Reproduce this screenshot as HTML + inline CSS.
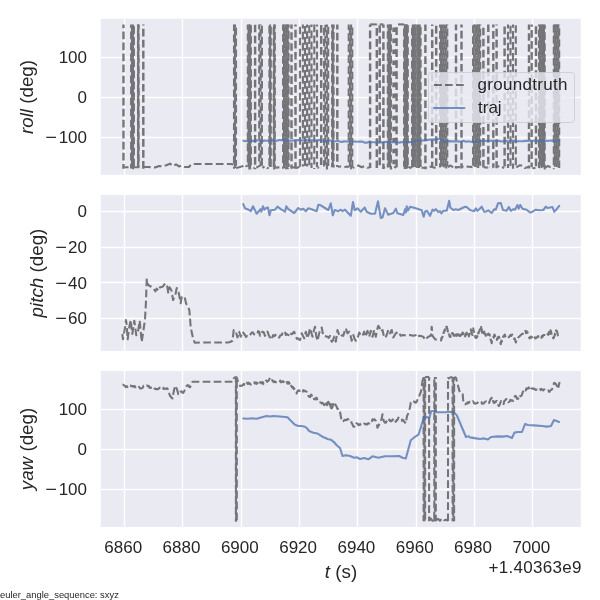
<!DOCTYPE html><html><head><meta charset="utf-8"><title>plot</title><style>
html,body{margin:0;padding:0;background:#fff}
body{width:600px;height:600px;position:relative;overflow:hidden;will-change:transform;font-family:"Liberation Sans",sans-serif;color:#262626}
.t{position:absolute;white-space:nowrap;line-height:1}
.yt{font-size:17px;text-align:right;width:60px;left:27px}
.mn{display:inline-block;transform:scaleX(1.18);transform-origin:100% 50%;margin-left:3px;margin-right:1.3px}
.xt{font-size:17px;text-align:center;width:60px}
.yl{font-size:18.8px;transform-origin:0 0;transform:rotate(-90deg);text-align:center;width:156px}

</style></head><body>
<svg width="600" height="600" viewBox="0 0 600 600" style="position:absolute;left:0;top:0">
<defs>
<clipPath id="c0"><rect x="100.80" y="18.80" width="480.00" height="156.05"/></clipPath>
<clipPath id="c1"><rect x="100.80" y="194.95" width="480.00" height="155.95"/></clipPath>
<clipPath id="c2"><rect x="100.80" y="371.00" width="480.00" height="156.00"/></clipPath>
</defs>
<rect x="100.80" y="18.80" width="480.00" height="156.05" fill="#eaeaf2"/>
<line x1="124.50" x2="124.50" y1="18.80" y2="174.85" stroke="#fff" stroke-width="1.39"/>
<line x1="182.50" x2="182.50" y1="18.80" y2="174.85" stroke="#fff" stroke-width="1.39"/>
<line x1="241.50" x2="241.50" y1="18.80" y2="174.85" stroke="#fff" stroke-width="1.39"/>
<line x1="299.50" x2="299.50" y1="18.80" y2="174.85" stroke="#fff" stroke-width="1.39"/>
<line x1="357.50" x2="357.50" y1="18.80" y2="174.85" stroke="#fff" stroke-width="1.39"/>
<line x1="416.50" x2="416.50" y1="18.80" y2="174.85" stroke="#fff" stroke-width="1.39"/>
<line x1="474.50" x2="474.50" y1="18.80" y2="174.85" stroke="#fff" stroke-width="1.39"/>
<line x1="532.50" x2="532.50" y1="18.80" y2="174.85" stroke="#fff" stroke-width="1.39"/>
<line x1="100.80" x2="580.80" y1="57.50" y2="57.50" stroke="#fff" stroke-width="1.39"/>
<line x1="100.80" x2="580.80" y1="97.50" y2="97.50" stroke="#fff" stroke-width="1.39"/>
<line x1="100.80" x2="580.80" y1="137.50" y2="137.50" stroke="#fff" stroke-width="1.39"/>
<g clip-path="url(#c0)" opacity="0.5" fill="none" stroke="#000" stroke-width="2.1" stroke-dasharray="7.7 3.33" stroke-linejoin="round">
<path d="M123.5 24.4 L123.5 168.7" stroke-dashoffset="3.9" stroke-width="2.45"/>
<path d="M131.1 24.4 L131.1 168.5" stroke-dashoffset="4.0"/>
<path d="M132.0 24.4 L132.0 165.9" stroke-dashoffset="10.3"/>
<path d="M133.0 24.4 L133.0 169.3" stroke-dashoffset="3.9"/>
<path d="M133.9 24.4 L133.9 169.1" stroke-dashoffset="9.1"/>
<path d="M138.0 24.4 L138.0 166.7" stroke-dashoffset="5.9"/>
<path d="M138.3 24.4 L138.3 167.9" stroke-dashoffset="10.8"/>
<path d="M138.6 24.4 L138.6 166.6" stroke-dashoffset="2.8"/>
<path d="M143.3 24.4 L143.3 169.1" stroke-dashoffset="6.7" stroke-width="2.45"/>
<path d="M234.0 24.4 L234.0 168.7" stroke-dashoffset="1.0"/>
<path d="M235.0 24.4 L235.0 168.1" stroke-dashoffset="4.5"/>
<path d="M236.0 24.4 L236.0 165.8" stroke-dashoffset="7.9"/>
<path d="M247.8 24.4 L247.8 166.6" stroke-dashoffset="2.3"/>
<path d="M248.6 24.4 L248.6 169.0" stroke-dashoffset="8.8"/>
<path d="M249.3 24.4 L249.3 169.4" stroke-dashoffset="1.7"/>
<path d="M250.1 24.4 L250.1 168.3" stroke-dashoffset="6.6"/>
<path d="M250.9 24.4 L250.9 169.3" stroke-dashoffset="10.3"/>
<path d="M255.1 24.4 L255.1 169.2" stroke-dashoffset="10.8" stroke-width="2.45"/>
<path d="M259.2 24.4 L259.2 167.1" stroke-dashoffset="2.9"/>
<path d="M260.6 24.4 L260.6 166.3" stroke-dashoffset="6.5"/>
<path d="M261.9 24.4 L261.9 166.9" stroke-dashoffset="9.7"/>
<path d="M269.4 24.4 L269.4 168.3" stroke-dashoffset="9.7"/>
<path d="M270.1 24.4 L270.1 166.9" stroke-dashoffset="2.8"/>
<path d="M270.8 24.4 L270.8 167.6" stroke-dashoffset="8.7"/>
<path d="M273.7 24.4 L273.7 168.4" stroke-dashoffset="8.2"/>
<path d="M274.2 24.4 L274.2 169.4" stroke-dashoffset="0.3"/>
<path d="M274.8 24.4 L274.8 168.6" stroke-dashoffset="3.4"/>
<path d="M283.1 24.4 L283.1 168.7" stroke-dashoffset="1.4"/>
<path d="M284.0 24.4 L284.0 167.9" stroke-dashoffset="5.6"/>
<path d="M284.9 24.4 L284.9 166.0" stroke-dashoffset="8.7"/>
<path d="M285.9 24.4 L285.9 169.3" stroke-dashoffset="1.3"/>
<path d="M286.8 24.4 L286.8 168.6" stroke-dashoffset="5.0"/>
<path d="M287.7 24.4 L287.7 169.3" stroke-dashoffset="0.2"/>
<path d="M288.6 24.4 L288.6 167.1" stroke-dashoffset="4.4"/>
<path d="M291.5 24.4 L291.5 168.7" stroke-dashoffset="3.3" stroke-width="2.45"/>
<path d="M295.5 24.4 L295.5 168.7" stroke-dashoffset="5.6" stroke-width="2.45"/>
<path d="M300.0 24.4 L300.0 168.9" stroke-dashoffset="8.8" stroke-width="2.15"/>
<path d="M302.9 24.4 L302.9 166.4" stroke-dashoffset="3.6" stroke-width="2.15"/>
<path d="M305.0 24.4 L305.0 169.1" stroke-dashoffset="9.5" stroke-width="2.15"/>
<path d="M307.1 24.4 L307.1 166.6" stroke-dashoffset="4.3" stroke-width="2.15"/>
<path d="M309.3 24.4 L309.3 167.3" stroke-dashoffset="10.2" stroke-width="2.15"/>
<path d="M311.5 24.4 L311.5 168.1" stroke-dashoffset="5.0" stroke-width="2.15"/>
<path d="M314.3 24.4 L314.3 169.1" stroke-dashoffset="10.9" stroke-width="2.15"/>
<path d="M317.0 24.4 L317.0 167.3" stroke-dashoffset="5.7" stroke-width="2.15"/>
<path d="M321.2 24.4 L321.2 168.2" stroke-dashoffset="10.4" stroke-width="2.45"/>
<path d="M324.1 24.4 L324.1 166.5" stroke-dashoffset="7.6"/>
<path d="M325.4 24.4 L325.4 166.4" stroke-dashoffset="10.8"/>
<path d="M326.9 24.4 L326.9 169.5" stroke-dashoffset="5.2"/>
<path d="M328.2 24.4 L328.2 166.0" stroke-dashoffset="8.8"/>
<path d="M332.1 24.4 L332.1 167.3" stroke-dashoffset="4.7"/>
<path d="M332.8 24.4 L332.8 168.0" stroke-dashoffset="8.6"/>
<path d="M333.6 24.4 L333.6 167.5" stroke-dashoffset="3.4"/>
<path d="M337.3 24.4 L337.3 166.9" stroke-dashoffset="2.7" stroke-width="2.45"/>
<path d="M348.7 24.4 L348.7 167.6" stroke-dashoffset="2.2"/>
<path d="M349.9 24.4 L349.9 166.3" stroke-dashoffset="8.1"/>
<path d="M351.1 24.4 L351.1 169.3" stroke-dashoffset="2.7"/>
<path d="M352.3 24.4 L352.3 168.7" stroke-dashoffset="7.9"/>
<path d="M370.1 24.4 L370.1 167.9" stroke-dashoffset="5.0" stroke-width="2.45"/>
<path d="M370.1 24.4 L376.8 24.4" stroke-dashoffset="0.0"/>
<path d="M376.8 24.4 L376.8 168.9" stroke-dashoffset="7.4" stroke-width="2.45"/>
<path d="M379.7 24.4 L379.7 167.9" stroke-dashoffset="10.3" stroke-width="2.45"/>
<path d="M379.7 24.4 L383.4 24.4" stroke-dashoffset="0.0"/>
<path d="M383.4 24.4 L383.4 168.9" stroke-dashoffset="4.3" stroke-width="2.45"/>
<path d="M387.8 24.4 L387.8 167.6" stroke-dashoffset="4.3"/>
<path d="M388.6 24.4 L388.6 167.6" stroke-dashoffset="9.9"/>
<path d="M389.4 24.4 L389.4 167.3" stroke-dashoffset="2.9"/>
<path d="M390.1 24.4 L390.1 167.2" stroke-dashoffset="6.4"/>
<path d="M390.9 24.4 L390.9 169.4" stroke-dashoffset="1.8"/>
<path d="M396.6 24.4 L396.6 168.0" stroke-dashoffset="8.2" stroke-width="2.45"/>
<path d="M394.6 27.4 L394.6 167.3" stroke-dashoffset="0.0" stroke-width="4.6" stroke-dasharray="4.6 6.43"/>
<path d="M398.0 24.4 L404.0 24.4" stroke-dashoffset="0.0"/>
<path d="M404.1 24.4 L404.1 166.8" stroke-dashoffset="7.0"/>
<path d="M404.8 24.4 L404.8 169.0" stroke-dashoffset="1.8"/>
<path d="M405.5 24.4 L405.5 168.7" stroke-dashoffset="6.0"/>
<path d="M406.3 24.4 L406.3 168.4" stroke-dashoffset="0.7"/>
<path d="M407.0 24.4 L407.0 168.6" stroke-dashoffset="6.0"/>
<path d="M407.8 24.4 L407.8 168.4" stroke-dashoffset="10.3"/>
<path d="M412.1 24.4 L412.1 168.6" stroke-dashoffset="7.8"/>
<path d="M412.9 24.4 L412.9 166.9" stroke-dashoffset="2.2"/>
<path d="M413.8 24.4 L413.8 168.2" stroke-dashoffset="8.5"/>
<path d="M414.6 24.4 L414.6 165.8" stroke-dashoffset="2.5"/>
<path d="M415.4 24.4 L415.4 166.7" stroke-dashoffset="7.4"/>
<path d="M416.3 24.4 L416.3 167.5" stroke-dashoffset="1.7"/>
<path d="M417.2 24.4 L417.2 168.2" stroke-dashoffset="7.6"/>
<path d="M418.0 24.4 L418.0 167.1" stroke-dashoffset="2.4"/>
<path d="M418.9 24.4 L418.9 168.5" stroke-dashoffset="7.6"/>
<path d="M419.7 24.4 L419.7 167.1" stroke-dashoffset="2.5"/>
<path d="M420.6 24.4 L420.6 169.0" stroke-dashoffset="8.4"/>
<path d="M425.4 24.4 L425.4 169.2" stroke-dashoffset="1.2" stroke-width="2.45"/>
<path d="M432.2 24.4 L432.2 168.1" stroke-dashoffset="6.1" stroke-width="2.45"/>
<path d="M436.2 24.4 L436.2 167.2" stroke-dashoffset="9.6" stroke-width="2.45"/>
<path d="M440.1 24.4 L440.1 167.6" stroke-dashoffset="4.5"/>
<path d="M441.1 24.4 L441.1 168.5" stroke-dashoffset="9.9"/>
<path d="M442.1 24.4 L442.1 166.4" stroke-dashoffset="4.4"/>
<path d="M443.2 24.4 L443.2 167.9" stroke-dashoffset="10.2"/>
<path d="M444.2 24.4 L444.2 167.4" stroke-dashoffset="4.5"/>
<path d="M445.3 24.4 L445.3 168.7" stroke-dashoffset="9.6"/>
<path d="M446.3 24.4 L446.3 168.5" stroke-dashoffset="3.8"/>
<path d="M447.3 24.4 L447.3 166.4" stroke-dashoffset="6.9"/>
<path d="M456.0 24.4 L456.0 168.4" stroke-dashoffset="1.9" stroke-width="2.45"/>
<path d="M461.5 24.4 L461.5 168.5" stroke-dashoffset="4.6" stroke-width="2.45"/>
<path d="M473.1 24.4 L473.1 167.5" stroke-dashoffset="10.1"/>
<path d="M474.1 24.4 L474.1 166.0" stroke-dashoffset="2.9"/>
<path d="M475.1 24.4 L475.1 167.0" stroke-dashoffset="6.3"/>
<path d="M476.1 24.4 L476.1 166.5" stroke-dashoffset="10.0"/>
<path d="M477.2 24.4 L477.2 167.5" stroke-dashoffset="2.1"/>
<path d="M478.2 24.4 L478.2 168.1" stroke-dashoffset="6.4"/>
<path d="M479.2 24.4 L479.2 166.7" stroke-dashoffset="0.4"/>
<path d="M480.2 24.4 L480.2 165.8" stroke-dashoffset="6.6"/>
<path d="M483.4 24.4 L483.4 167.5" stroke-dashoffset="7.8" stroke-width="2.45"/>
<path d="M488.3 24.4 L488.3 167.1" stroke-dashoffset="0.0" stroke-width="2.45"/>
<path d="M493.3 24.4 L493.3 167.7" stroke-dashoffset="4.5" stroke-width="2.45"/>
<path d="M496.6 24.4 L496.6 168.3" stroke-dashoffset="6.6" stroke-width="2.45"/>
<path d="M504.6 24.4 L504.6 168.2" stroke-dashoffset="8.9" stroke-width="2.45"/>
<path d="M508.0 24.4 L508.0 168.0" stroke-dashoffset="3.7" stroke-width="2.15"/>
<path d="M510.5 24.4 L510.5 169.2" stroke-dashoffset="9.6" stroke-width="2.15"/>
<path d="M513.0 24.4 L513.0 168.8" stroke-dashoffset="4.4" stroke-width="2.15"/>
<path d="M515.8 24.4 L515.8 167.6" stroke-dashoffset="10.3" stroke-width="2.15"/>
<path d="M529.0 24.4 L529.0 168.4" stroke-dashoffset="2.3" stroke-width="2.45"/>
<path d="M531.7 24.4 L531.7 167.2" stroke-dashoffset="5.4" stroke-width="2.45"/>
<path d="M536.0 24.4 L536.0 168.2" stroke-dashoffset="9.2" stroke-width="2.45"/>
<path d="M539.0 24.4 L539.0 168.1" stroke-dashoffset="5.9"/>
<path d="M539.9 24.4 L539.9 169.1" stroke-dashoffset="10.1"/>
<path d="M540.6 24.4 L540.6 166.2" stroke-dashoffset="2.1"/>
<path d="M541.5 24.4 L541.5 168.1" stroke-dashoffset="7.1"/>
<path d="M542.2 24.4 L542.2 168.1" stroke-dashoffset="10.6"/>
<path d="M543.1 24.4 L543.1 167.2" stroke-dashoffset="5.7"/>
<path d="M543.9 24.4 L543.9 166.6" stroke-dashoffset="10.2"/>
<path d="M544.7 24.4 L544.7 169.4" stroke-dashoffset="3.2"/>
<path d="M553.8 24.4 L553.8 169.2" stroke-dashoffset="10.6"/>
<path d="M554.7 24.4 L554.7 166.8" stroke-dashoffset="4.6"/>
<path d="M555.6 24.4 L555.6 167.6" stroke-dashoffset="0.0"/>
<path d="M556.5 24.4 L556.5 167.0" stroke-dashoffset="4.5"/>
<path d="M557.4 24.4 L557.4 167.6" stroke-dashoffset="10.9"/>
<path d="M558.3 24.4 L558.3 167.6" stroke-dashoffset="3.9"/>
<path d="M559.2 24.4 L559.2 168.1" stroke-dashoffset="7.3"/>
<path d="M122.8 167.3 L143.0 167.3" stroke-dashoffset="2.0"/>
<path d="M143.0 167.0 L148.0 167.0 L155.0 167.4 L159.0 166.0 L163.0 166.4 L167.0 165.0 L170.0 163.6 L173.0 166.0 L176.0 164.4 L179.0 166.4 L182.0 165.6 L185.0 167.0 L189.0 167.0 L191.0 164.4 L194.0 164.0 L230.0 164.0 L233.6 164.4" stroke-dashoffset="0.0"/>
<path d="M236.0 168.0 L240.0 167.0 L243.0 166.0 L245.0 164.4 L247.0 166.8" stroke-dashoffset="0.0"/>
<path d="M251.5 167.5 L254.6 168.0" stroke-dashoffset="9.1"/>
<path d="M255.6 166.8 L258.6 167.2" stroke-dashoffset="10.3"/>
<path d="M262.5 168.0 L264.9 166.0 L267.1 168.1 L268.8 167.7" stroke-dashoffset="5.2"/>
<path d="M275.4 167.8 L278.3 167.4 L280.5 167.4 L282.5 167.6" stroke-dashoffset="3.7"/>
<path d="M292.0 167.2 L295.0 167.5" stroke-dashoffset="4.0"/>
<path d="M296.0 167.9 L299.5 166.9" stroke-dashoffset="2.8"/>
<path d="M317.5 167.5 L320.7 168.1" stroke-dashoffset="6.0"/>
<path d="M337.8 166.8 L341.0 166.5 L343.8 167.3 L346.8 166.6 L348.1 167.4" stroke-dashoffset="4.3"/>
<path d="M352.9 168.1 L355.2 166.1 L358.4 165.5 L361.7 167.2 L364.3 166.1 L367.5 167.8 L369.6 167.5" stroke-dashoffset="6.1"/>
<path d="M383.9 167.5 L387.2 167.0" stroke-dashoffset="6.5"/>
<path d="M391.5 168.0 L393.6 165.9 L396.1 168.0" stroke-dashoffset="7.3"/>
<path d="M408.3 166.8 L411.5 168.3" stroke-dashoffset="11.0"/>
<path d="M421.1 167.9 L423.2 167.7 L424.9 167.8" stroke-dashoffset="10.5"/>
<path d="M425.9 167.9 L428.1 166.1 L431.7 167.0" stroke-dashoffset="6.7"/>
<path d="M432.7 167.4 L435.7 167.7" stroke-dashoffset="0.5"/>
<path d="M447.9 167.0 L450.5 165.5 L452.6 166.9 L455.5 168.1" stroke-dashoffset="1.5"/>
<path d="M456.5 167.4 L459.0 167.0 L461.0 168.2" stroke-dashoffset="4.1"/>
<path d="M462.0 166.9 L465.0 165.7 L468.0 166.7 L471.4 166.9 L472.5 167.2" stroke-dashoffset="6.1"/>
<path d="M483.9 167.2 L487.8 167.6" stroke-dashoffset="1.5"/>
<path d="M488.8 167.2 L491.4 167.4 L492.8 167.9" stroke-dashoffset="7.2"/>
<path d="M497.1 166.9 L500.1 165.6 L502.3 167.0 L504.1 168.1" stroke-dashoffset="5.3"/>
<path d="M516.3 167.3 L519.5 165.4 L522.6 165.5 L524.8 168.0 L528.5 167.1" stroke-dashoffset="1.3"/>
<path d="M532.2 168.3 L535.5 168.0" stroke-dashoffset="1.5"/>
<path d="M545.2 167.7 L547.7 166.0 L550.2 167.0 L553.2 167.4" stroke-dashoffset="1.5"/>
</g>
<path clip-path="url(#c0)" d="M243.3 140.7 L245.0 141.1 L247.8 141.0 L250.2 141.0 L252.7 140.8 L255.3 140.9 L257.6 140.2 L259.2 140.3 L260.8 141.0 L263.2 140.9 L264.7 140.6 L268.0 140.7 L270.4 140.5 L272.1 140.2 L273.9 140.4 L276.2 140.9 L278.0 140.2 L280.0 140.1 L282.1 140.2 L284.6 140.0 L287.9 140.3 L291.3 140.7 L294.1 140.4 L297.5 140.0 L300.4 140.2 L303.2 140.6 L305.0 140.0 L306.6 140.1 L308.2 140.3 L311.7 140.2 L313.8 140.3 L315.9 140.6 L318.8 139.9 L320.8 140.5 L324.2 140.7 L326.5 141.2 L328.1 140.2 L331.1 140.8 L332.7 141.0 L336.2 141.2 L338.4 140.8 L340.0 141.8 L342.5 141.9 L344.1 141.3 L345.7 141.5 L347.3 141.4 L349.7 141.5 L351.3 141.3 L354.7 141.5 L357.2 141.8 L359.8 141.5 L361.9 141.6 L364.5 142.6 L367.2 142.6 L369.1 141.7 L371.7 142.3 L374.3 142.2 L377.1 142.6 L380.4 142.1 L382.8 142.7 L384.8 142.0 L386.9 141.9 L389.9 142.8 L392.1 142.0 L393.7 142.2 L395.4 142.4 L398.0 142.2 L399.7 142.7 L401.3 142.1 L403.3 142.1 L405.0 142.0 L407.2 142.1 L409.8 142.1 L412.6 141.7 L415.2 141.1 L418.4 141.0 L421.8 140.8 L424.7 140.1 L427.8 139.9 L429.6 139.5 L431.4 139.6 L434.2 139.4 L435.9 139.8 L438.5 138.9 L440.1 138.9 L442.3 140.5 L445.7 141.5 L447.7 141.4 L449.9 141.1 L451.4 141.4 L454.6 141.4 L456.3 141.2 L458.1 141.4 L460.5 141.7 L463.6 140.8 L465.7 141.7 L468.1 141.2 L470.5 141.8 L473.9 141.9 L477.3 141.9 L479.0 142.1 L481.4 141.0 L484.8 140.8 L487.5 141.1 L490.8 140.7 L492.7 140.5 L494.6 140.8 L496.8 141.1 L498.8 140.7 L500.8 141.4 L504.0 141.3 L506.7 140.9 L508.5 141.4 L511.0 140.5 L512.8 140.6 L515.7 141.4 L517.6 141.3 L519.8 141.2 L523.0 141.1 L526.1 140.9 L527.6 141.0 L530.3 140.7 L532.6 140.8 L534.1 140.8 L536.4 140.9 L539.3 140.8 L542.8 141.1 L546.1 140.9 L549.0 140.7 L552.1 140.5 L554.7 140.9 L557.3 140.5 L558.9 140.2 L559.2 140.7" fill="none" stroke="#4c72b0" stroke-opacity="0.75" stroke-width="2.1" stroke-linejoin="round" stroke-linecap="round"/>
<rect x="100.80" y="194.95" width="480.00" height="155.95" fill="#eaeaf2"/>
<line x1="124.50" x2="124.50" y1="194.95" y2="350.90" stroke="#fff" stroke-width="1.39"/>
<line x1="182.50" x2="182.50" y1="194.95" y2="350.90" stroke="#fff" stroke-width="1.39"/>
<line x1="241.50" x2="241.50" y1="194.95" y2="350.90" stroke="#fff" stroke-width="1.39"/>
<line x1="299.50" x2="299.50" y1="194.95" y2="350.90" stroke="#fff" stroke-width="1.39"/>
<line x1="357.50" x2="357.50" y1="194.95" y2="350.90" stroke="#fff" stroke-width="1.39"/>
<line x1="416.50" x2="416.50" y1="194.95" y2="350.90" stroke="#fff" stroke-width="1.39"/>
<line x1="474.50" x2="474.50" y1="194.95" y2="350.90" stroke="#fff" stroke-width="1.39"/>
<line x1="532.50" x2="532.50" y1="194.95" y2="350.90" stroke="#fff" stroke-width="1.39"/>
<line x1="100.80" x2="580.80" y1="211.50" y2="211.50" stroke="#fff" stroke-width="1.39"/>
<line x1="100.80" x2="580.80" y1="247.50" y2="247.50" stroke="#fff" stroke-width="1.39"/>
<line x1="100.80" x2="580.80" y1="282.50" y2="282.50" stroke="#fff" stroke-width="1.39"/>
<line x1="100.80" x2="580.80" y1="318.50" y2="318.50" stroke="#fff" stroke-width="1.39"/>
<g clip-path="url(#c1)" opacity="0.5" fill="none" stroke="#000" stroke-width="2.1" stroke-dasharray="7.7 3.33" stroke-linejoin="round">
<path d="M122.3 334.0 L123.0 339.3 L125.0 327.3 L125.9 320.0 L126.5 323.3 L127.7 339.3 L129.0 328.7 L130.7 320.0 L132.3 334.0 L134.3 320.7 L136.3 335.3 L138.3 330.0 L139.7 320.7 L141.7 342.0 L143.7 328.7 L145.0 319.3 L145.9 303.3 L146.5 286.0 L146.8 278.3 L147.1 283.3 L149.3 285.7 L151.3 286.7 L153.3 288.0 L155.3 291.3 L156.7 288.7 L158.7 290.7 L160.0 287.3 L162.7 286.7 L165.3 283.3 L167.3 286.7 L168.3 293.3 L169.6 287.3 L171.3 290.0 L173.1 300.0 L174.4 296.7 L175.7 293.3 L176.7 288.0 L178.7 292.7 L180.7 303.3 L181.6 297.3 L183.3 298.7 L184.7 297.3 L186.0 303.3 L188.0 306.7 L189.3 310.0 L190.0 318.0 L190.7 327.3 L192.7 336.7 L194.7 342.7 L200.0 342.5 L228.0 342.5 L230.0 342.0 L232.5 340.8 L233.7 330.0 L234.8 330.7 L235.8 331.7 L237.5 337.5 L239.2 331.7 L240.8 336.7 L242.5 331.7 L243.8 333.5 L245.0 335.0 L246.1 336.9 L247.2 336.0 L248.3 336.7 L249.4 335.3 L250.6 334.2 L251.7 332.5 L252.8 332.3 L253.9 334.2 L255.0 335.0 L256.0 334.6 L257.1 334.3 L258.1 331.2 L259.2 331.7 L260.0 335.8 L261.2 333.1 L262.5 331.7 L263.8 332.4 L265.0 335.8 L266.2 334.7 L267.5 331.7 L268.8 335.2 L270.0 337.5 L271.1 335.2 L272.2 337.4 L273.3 335.0 L274.4 336.2 L275.6 334.9 L276.7 334.2 L277.9 336.2 L279.2 337.5 L280.4 335.2 L281.7 335.0 L282.8 332.3 L283.9 332.9 L285.0 331.7 L285.8 335.0 L286.9 334.0 L287.9 334.8 L289.0 335.4 L290.0 336.7 L291.0 333.9 L292.1 334.1 L293.1 332.7 L294.2 331.7 L295.8 336.7 L296.9 338.6 L297.9 338.4 L299.0 339.6 L300.0 340.0 L301.7 333.3 L302.9 335.8 L304.2 338.3 L305.8 331.7 L307.5 338.3 L308.8 334.0 L310.0 328.3 L311.2 332.3 L312.5 336.7 L313.8 330.8 L315.0 326.7 L316.2 335.7 L317.5 340.8 L319.2 333.3 L320.0 330.8 L321.7 327.5 L323.3 335.8 L327.5 336.7 L328.8 337.9 L330.0 335.8 L331.7 341.7 L332.9 340.3 L334.2 336.7 L335.8 341.7 L337.5 330.0 L338.8 334.0 L340.0 336.7 L341.1 335.8 L342.2 335.2 L343.3 335.8 L344.6 331.4 L345.8 328.3 L347.5 333.3 L349.2 331.7 L350.4 334.8 L351.7 340.8 L353.3 335.0 L354.6 338.8 L355.8 340.8 L356.9 337.7 L358.1 336.5 L359.2 332.5 L360.8 335.8 L361.9 334.1 L363.1 334.6 L364.2 331.7 L365.0 336.7 L366.2 334.9 L367.5 330.8 L369.2 336.7 L370.8 330.8 L372.5 336.7 L374.2 330.0 L375.8 336.7 L377.1 329.6 L378.3 325.8 L379.6 327.8 L380.8 331.7 L382.5 330.0 L384.2 337.5 L385.4 337.6 L386.7 335.0 L388.3 330.0 L390.0 333.3 L391.7 330.0 L393.3 337.5 L394.6 335.3 L395.8 333.3 L398.3 331.7 L400.8 335.8 L403.3 335.0 L406.7 335.8 L410.0 335.0 L413.3 335.8 L416.7 335.0 L416.7 336.7 L420.0 335.8 L423.3 336.7 L425.0 340.0 L428.3 336.7 L430.8 335.8 L431.7 326.7 L432.5 335.8 L435.0 339.2 L437.5 340.0 L440.8 340.0 L441.1 340.5 L441.3 338.8 L441.5 337.7 L441.8 338.4 L442.0 338.2 L442.3 336.7 L442.5 336.7 L442.7 335.1 L443.0 334.9 L443.2 335.5 L443.5 334.3 L443.7 332.3 L443.9 331.9 L444.2 331.7 L444.4 330.4 L444.6 329.9 L444.8 330.9 L445.1 329.2 L445.3 329.5 L445.5 328.8 L445.8 327.9 L446.0 328.5 L446.2 326.8 L446.4 327.4 L446.7 326.7 L446.9 326.9 L447.1 328.4 L447.4 328.9 L447.6 330.0 L447.9 332.4 L448.1 333.0 L448.3 333.3 L448.6 333.4 L448.8 335.1 L449.0 334.2 L449.3 335.0 L449.5 336.4 L449.8 336.5 L450.0 336.7 L450.2 335.6 L450.5 337.0 L450.7 335.2 L450.9 335.0 L451.1 335.7 L451.4 334.5 L451.6 334.1 L451.8 333.4 L452.0 333.1 L452.3 333.8 L452.5 333.3 L452.7 333.0 L453.0 334.0 L453.2 333.8 L453.4 334.1 L453.6 335.4 L453.9 334.7 L454.1 335.1 L454.3 335.9 L454.5 334.7 L454.8 334.9 L455.0 335.8 L455.2 336.5 L455.5 336.2 L455.7 334.9 L455.9 334.6 L456.1 335.6 L456.4 335.8 L456.6 334.2 L456.8 335.5 L457.0 335.2 L457.3 334.5 L457.5 334.2 L457.7 334.2 L458.0 333.7 L458.2 333.7 L458.4 335.7 L458.6 334.4 L458.9 335.5 L459.1 334.7 L459.3 336.0 L459.5 335.7 L459.8 335.3 L460.0 335.8 L460.2 335.0 L460.5 335.8 L460.7 334.3 L460.9 334.4 L461.1 334.8 L461.4 335.2 L461.6 334.5 L461.8 333.6 L462.0 334.6 L462.3 333.0 L462.5 333.3 L462.7 332.6 L463.0 333.3 L463.2 333.9 L463.4 333.4 L463.6 333.8 L463.9 334.4 L464.1 335.1 L464.3 334.4 L464.5 335.1 L464.8 336.4 L465.0 335.8 L465.2 336.5 L465.5 335.5 L465.7 335.3 L465.9 334.8 L466.1 333.6 L466.4 333.1 L466.6 332.7 L466.8 334.2 L467.0 333.5 L467.3 333.7 L467.5 332.5 L467.7 332.0 L468.0 333.7 L468.2 333.9 L468.5 334.9 L468.7 334.5 L468.9 336.4 L469.2 335.8 L469.4 334.0 L469.6 334.0 L469.9 333.5 L470.1 332.8 L470.4 331.5 L470.6 330.5 L470.8 329.2 L471.1 330.6 L471.3 331.7 L471.5 331.4 L471.8 332.9 L472.0 334.1 L472.3 334.9 L472.5 335.0 L472.8 332.6 L473.1 331.1 L473.3 328.3 L473.6 330.3 L473.8 330.9 L474.0 332.2 L474.3 332.9 L474.5 334.5 L474.8 335.7 L475.0 336.7 L475.2 335.9 L475.5 337.2 L475.7 338.0 L476.0 337.9 L476.2 337.7 L476.4 337.2 L476.7 337.5 L476.9 337.4 L477.1 336.6 L477.3 335.8 L477.6 336.1 L477.8 334.0 L478.0 334.8 L478.3 332.8 L478.5 333.5 L478.7 332.7 L478.9 331.7 L479.2 331.7 L479.4 331.2 L479.6 330.0 L479.9 329.4 L480.1 329.2 L480.4 327.0 L480.6 325.7 L480.8 325.8 L481.1 326.6 L481.3 328.6 L481.5 328.8 L481.8 329.9 L482.0 332.6 L482.3 333.3 L482.5 334.2 L482.7 333.7 L483.0 334.2 L483.2 332.7 L483.5 333.1 L483.7 331.8 L483.9 331.9 L484.2 331.7 L484.4 332.9 L484.6 333.7 L484.9 334.2 L485.1 333.8 L485.4 334.8 L485.6 334.9 L485.8 335.8 L486.1 335.0 L486.3 335.5 L486.5 336.1 L486.7 335.9 L487.0 335.5 L487.2 335.8 L487.4 334.3 L487.7 334.0 L487.9 334.4 L488.1 333.9 L488.3 334.2 L488.6 333.7 L488.8 334.2 L489.0 334.8 L489.3 334.6 L489.5 334.4 L489.8 335.6 L490.0 335.0 L490.6 339.5 L491.1 340.4 L491.7 343.3 L492.2 339.6 L492.8 337.2 L493.3 336.7 L493.9 337.7 L494.4 334.5 L495.0 335.8 L495.6 338.0 L496.1 338.9 L496.7 340.0 L497.2 338.2 L497.8 338.8 L498.3 336.7 L499.0 336.8 L499.6 339.1 L500.2 342.1 L500.8 344.2 L501.4 340.5 L501.9 341.5 L502.5 338.3 L503.1 336.8 L503.6 335.9 L504.2 336.7 L504.8 334.6 L505.4 336.3 L506.0 335.2 L506.7 335.0 L507.2 335.6 L507.8 335.8 L508.3 336.5 L508.9 337.2 L509.4 336.4 L510.0 335.8 L510.6 334.9 L511.1 336.0 L511.7 335.1 L512.2 334.6 L512.8 336.4 L513.3 336.7 L514.0 338.9 L514.6 338.4 L515.2 340.2 L515.8 342.5 L516.5 340.7 L517.1 340.7 L517.7 338.8 L518.3 337.5 L521.7 334.2 L522.2 334.0 L522.8 334.0 L523.3 332.6 L523.9 333.3 L524.4 333.1 L525.0 331.7 L525.5 330.8 L526.0 333.1 L526.5 332.7 L527.0 331.4 L527.5 332.5 L528.1 334.0 L528.6 336.2 L529.2 337.5 L529.7 338.4 L530.2 336.8 L530.7 337.2 L531.2 337.8 L531.7 336.7 L532.2 337.8 L532.7 338.5 L533.2 337.6 L533.7 338.4 L534.2 338.3 L534.7 337.3 L535.3 338.4 L535.8 338.3 L536.4 337.6 L536.9 337.5 L537.5 336.7 L538.1 336.1 L538.6 338.0 L539.2 338.3 L539.7 338.5 L540.3 337.5 L540.8 337.5 L541.3 337.8 L541.8 336.0 L542.3 337.1 L542.8 336.4 L543.3 335.0 L546.7 335.0 L547.0 334.3 L547.3 333.2 L547.6 334.2 L547.9 334.3 L548.2 334.8 L548.5 333.7 L548.9 332.0 L549.2 333.3 L549.5 333.8 L549.8 330.9 L550.2 332.8 L550.5 330.3 L550.8 330.8 L551.2 332.0 L551.6 335.1 L552.0 335.8 L552.3 335.3 L552.7 336.0 L553.0 337.8 L553.3 338.3 L553.7 338.0 L554.0 337.4 L554.3 335.9 L554.7 335.8 L555.0 333.3 L555.3 332.8 L555.7 333.8 L556.0 330.5 L556.3 330.4 L556.7 330.8 L557.0 331.9 L557.3 332.2 L557.7 334.6 L558.0 335.3 L558.3 335.8 L558.7 336.1 L559.0 337.3 L559.3 336.7 L559.7 336.7" stroke-dashoffset="0.0"/>
</g>
<path clip-path="url(#c1)" d="M243.3 204.2 L245.0 208.3 L247.5 209.2 L250.8 211.2 L253.0 206.3 L256.7 213.7 L259.2 210.8 L260.5 209.2 L261.3 211.7 L263.0 206.3 L264.2 209.7 L265.8 208.3 L268.0 207.5 L269.5 215.3 L270.8 210.3 L275.0 209.7 L277.5 206.7 L280.8 209.2 L285.0 211.7 L286.3 206.3 L288.3 209.2 L294.2 213.0 L298.3 208.0 L300.8 209.7 L303.3 208.7 L305.8 211.2 L308.3 208.3 L311.7 209.2 L316.7 211.2 L318.3 204.7 L320.8 205.3 L324.2 207.5 L328.3 210.0 L330.8 203.3 L332.8 215.3 L334.7 210.0 L338.3 211.2 L340.8 209.7 L342.5 211.2 L345.0 209.7 L350.8 215.8 L353.0 202.0 L354.7 210.3 L357.5 208.3 L360.8 211.7 L364.7 207.5 L366.7 211.7 L370.8 213.7 L375.0 213.7 L378.0 201.3 L380.8 218.0 L382.5 217.5 L385.0 208.3 L388.3 214.7 L393.3 213.0 L395.8 208.7 L397.5 213.3 L403.3 215.0 L405.0 209.2 L405.8 212.5 L406.7 206.3 L407.8 210.8 L410.0 206.7 L415.0 208.0 L421.7 210.3 L423.7 216.7 L425.0 211.7 L427.0 210.8 L430.0 215.8 L432.5 209.7 L434.2 210.8 L435.8 209.2 L438.3 212.0 L440.0 211.2 L441.3 213.3 L443.3 210.8 L446.7 210.8 L449.2 200.8 L450.3 207.5 L453.3 210.0 L455.8 209.2 L458.3 210.0 L465.0 206.7 L466.7 207.0 L470.0 210.0 L474.2 211.2 L475.8 208.3 L477.5 210.8 L479.2 209.2 L481.7 206.7 L484.2 211.7 L485.8 211.7 L488.3 210.3 L490.0 211.7 L491.7 213.0 L494.2 209.2 L495.8 209.7 L498.0 203.3 L500.8 203.0 L503.0 210.0 L506.7 210.8 L508.8 207.0 L510.8 210.8 L513.3 209.2 L515.0 209.7 L517.5 205.0 L518.7 208.7 L520.3 205.0 L522.5 208.7 L526.7 209.7 L530.0 212.5 L532.5 211.7 L535.8 209.7 L539.2 210.3 L543.3 210.0 L545.8 206.7 L547.5 208.0 L552.5 207.0 L554.2 211.7 L556.7 209.2 L559.2 205.8" fill="none" stroke="#4c72b0" stroke-opacity="0.75" stroke-width="2.1" stroke-linejoin="round" stroke-linecap="round"/>
<rect x="100.80" y="371.00" width="480.00" height="156.00" fill="#eaeaf2"/>
<line x1="124.50" x2="124.50" y1="371.00" y2="527.00" stroke="#fff" stroke-width="1.39"/>
<line x1="182.50" x2="182.50" y1="371.00" y2="527.00" stroke="#fff" stroke-width="1.39"/>
<line x1="241.50" x2="241.50" y1="371.00" y2="527.00" stroke="#fff" stroke-width="1.39"/>
<line x1="299.50" x2="299.50" y1="371.00" y2="527.00" stroke="#fff" stroke-width="1.39"/>
<line x1="357.50" x2="357.50" y1="371.00" y2="527.00" stroke="#fff" stroke-width="1.39"/>
<line x1="416.50" x2="416.50" y1="371.00" y2="527.00" stroke="#fff" stroke-width="1.39"/>
<line x1="474.50" x2="474.50" y1="371.00" y2="527.00" stroke="#fff" stroke-width="1.39"/>
<line x1="532.50" x2="532.50" y1="371.00" y2="527.00" stroke="#fff" stroke-width="1.39"/>
<line x1="100.80" x2="580.80" y1="409.50" y2="409.50" stroke="#fff" stroke-width="1.39"/>
<line x1="100.80" x2="580.80" y1="449.50" y2="449.50" stroke="#fff" stroke-width="1.39"/>
<line x1="100.80" x2="580.80" y1="489.50" y2="489.50" stroke="#fff" stroke-width="1.39"/>
<g clip-path="url(#c2)" opacity="0.5" fill="none" stroke="#000" stroke-width="2.1" stroke-dasharray="7.7 3.33" stroke-linejoin="round">
<path d="M122.5 384.7 L123.2 384.7 L123.8 385.0 L124.5 386.0 L125.2 386.0 L125.8 387.2 L126.5 386.1 L127.2 386.4 L127.8 387.0 L128.5 386.5 L129.2 385.7 L129.9 386.3 L130.6 385.6 L131.2 386.3 L131.9 386.0 L132.6 386.0 L133.3 386.8 L134.0 386.0 L134.7 386.1 L135.3 387.3 L136.0 387.0 L136.7 386.3 L137.4 387.2 L138.1 387.6 L138.8 386.9 L139.4 387.4 L140.1 388.4 L140.8 388.5 L141.5 388.4 L142.2 388.1 L142.8 387.7 L143.5 385.8 L144.2 386.0 L144.8 386.2 L145.5 386.3 L146.2 386.0 L146.8 385.4 L147.5 386.0 L148.1 386.3 L148.8 385.9 L149.4 387.8 L150.0 387.3 L150.7 388.0 L151.4 387.5 L152.1 387.1 L152.8 388.3 L153.5 387.7 L154.2 387.7 L154.8 388.8 L155.4 389.1 L156.0 388.9 L156.7 389.3 L157.3 389.0 L157.9 389.1 L158.5 388.6 L159.2 388.5 L159.8 387.6 L160.4 387.6 L161.0 388.2 L161.7 387.3 L162.3 386.9 L162.9 387.4 L163.5 388.8 L164.2 389.0 L164.8 388.5 L165.5 388.9 L166.2 388.6 L166.8 388.3 L167.5 388.5 L168.1 391.3 L168.8 391.7 L169.4 394.0 L170.0 396.0 L170.6 396.1 L171.2 397.5 L171.9 397.5 L172.5 398.5 L173.3 393.7 L174.2 389.3 L175.3 385.7 L176.0 387.5 L176.7 388.5 L177.5 391.1 L178.3 394.3 L179.0 393.8 L179.6 393.8 L180.2 391.7 L180.8 391.8 L181.5 391.3 L182.1 391.8 L182.7 392.9 L183.3 392.7 L184.2 391.2 L185.0 389.3 L185.6 387.8 L186.2 386.9 L186.9 385.6 L187.5 385.2 L188.1 385.6 L188.8 385.4 L189.4 387.1 L190.0 387.3 L192.5 381.8 L196.7 381.8 L232.5 381.8 L233.5 378.5 L235.8 376.8" stroke-dashoffset="0.0"/>
<path d="M236.8 377.5 L238.3 383.5 L239.2 384.8 L240.0 385.7 L240.7 385.9 L241.3 385.7 L242.0 385.8 L242.7 385.1 L243.3 384.3 L244.0 384.8 L244.7 382.7 L245.3 383.3 L246.0 383.9 L246.7 382.7 L247.3 383.2 L247.9 384.0 L248.5 382.6 L249.2 383.6 L249.8 383.4 L250.4 384.3 L251.0 384.6 L251.7 384.7 L252.3 383.1 L252.9 382.9 L253.5 382.5 L254.2 382.3 L254.8 383.4 L255.4 383.4 L256.0 382.4 L256.7 383.9 L257.3 382.9 L257.9 384.1 L258.5 383.3 L259.2 384.3 L260.0 382.3 L260.8 382.3 L261.5 383.3 L262.2 382.1 L262.9 382.3 L263.6 384.1 L264.3 384.1 L265.0 383.5 L265.8 381.0 L266.5 380.6 L267.1 381.9 L267.7 381.1 L268.3 381.0 L269.2 379.7 L270.0 377.7 L270.7 377.7 L271.3 379.9 L272.0 380.0 L272.7 381.3 L273.3 381.0 L274.0 382.1 L274.6 381.3 L275.2 381.7 L275.8 382.3 L276.5 381.3 L277.2 381.0 L277.8 380.5 L278.5 380.6 L279.2 380.7 L279.8 381.3 L280.4 380.5 L281.0 382.3 L281.7 382.3 L282.4 381.6 L283.1 381.2 L283.8 381.9 L284.4 380.9 L285.1 380.2 L285.8 380.2 L286.7 381.8 L287.5 383.5 L288.1 383.6 L288.8 382.0 L289.4 383.6 L290.0 382.3 L290.6 382.7 L291.2 385.5 L291.9 387.0 L292.5 387.7 L293.1 387.1 L293.8 389.1 L294.4 388.6 L295.0 389.3 L295.8 391.6 L296.7 393.5 L297.3 391.7 L297.9 390.9 L298.5 390.4 L299.2 390.2 L300.0 392.2 L300.8 392.3 L301.5 391.2 L302.1 391.8 L302.7 391.6 L303.3 390.2 L304.0 391.4 L304.7 390.5 L305.3 390.9 L306.0 391.5 L306.7 391.8 L307.3 393.6 L307.9 393.5 L308.5 396.1 L309.2 396.8 L309.8 397.0 L310.4 396.7 L311.0 394.7 L311.7 395.2 L312.3 397.1 L312.9 396.4 L313.5 398.0 L314.2 399.3 L314.8 399.1 L315.4 399.3 L316.0 397.8 L316.7 397.7 L317.5 400.6 L318.3 401.8 L319.0 402.3 L319.7 402.1 L320.3 402.5 L321.0 402.5 L321.7 403.5 L322.3 402.8 L323.0 403.1 L323.7 404.4 L324.3 405.2 L325.0 404.3 L325.7 403.2 L326.3 402.4 L327.0 403.8 L327.7 402.4 L328.3 401.8 L329.0 403.0 L329.7 404.0 L330.3 406.0 L331.0 407.8 L331.7 408.5 L332.5 406.3 L333.3 404.3 L325.0 404.3 L325.7 404.2 L326.4 403.4 L327.1 405.2 L327.8 403.4 L328.5 404.3 L329.2 404.3 L329.8 406.1 L330.4 405.7 L331.0 407.9 L331.7 408.5 L332.5 406.9 L333.3 403.5 L334.2 403.8 L335.0 403.5 L335.6 405.5 L336.2 405.5 L336.9 407.5 L337.5 409.0 L338.1 409.0 L338.8 411.1 L339.4 410.7 L340.0 411.8 L340.8 416.3 L341.7 421.0 L342.3 421.8 L342.9 421.3 L343.5 421.3 L344.2 420.2 L344.9 419.9 L345.6 419.9 L346.2 420.2 L346.9 419.6 L347.6 419.1 L348.3 419.3 L349.0 419.3 L349.6 419.0 L350.2 419.7 L350.8 420.2 L351.7 423.2 L352.5 424.3 L353.3 426.5 L354.2 426.8 L355.0 425.0 L355.8 422.7 L356.5 423.3 L357.1 423.6 L357.7 423.7 L358.3 425.2 L359.0 424.3 L359.6 424.9 L360.2 424.7 L360.8 423.5 L361.5 423.2 L362.2 424.1 L362.8 424.0 L363.5 423.9 L364.2 423.5 L364.8 424.0 L365.4 424.4 L366.0 423.9 L366.7 424.3 L367.3 424.4 L368.0 423.2 L368.7 423.3 L369.3 423.5 L370.0 422.7 L370.6 422.2 L371.2 420.6 L371.9 421.1 L372.5 419.3 L373.2 419.9 L373.8 420.0 L374.5 419.2 L375.2 420.5 L375.8 420.7 L376.7 423.7 L377.5 427.7 L378.3 426.3 L379.2 424.3 L380.0 422.6 L380.8 421.0 L381.7 418.3 L382.5 414.3 L383.7 421.0 L384.4 421.9 L385.1 422.7 L385.8 422.7 L386.5 421.3 L387.1 420.9 L387.7 420.0 L388.3 418.5 L389.0 419.8 L389.6 419.5 L390.2 421.1 L390.8 421.0 L391.5 421.1 L392.1 420.1 L392.7 420.1 L393.3 418.5 L394.0 420.2 L394.6 420.2 L395.2 421.1 L395.8 421.8 L396.5 420.1 L397.1 420.4 L397.7 419.6 L398.3 417.7 L399.0 418.2 L399.6 419.3 L400.2 420.0 L400.8 420.2 L401.5 420.6 L402.1 419.5 L402.7 420.7 L403.3 420.2 L404.0 421.2 L404.6 422.2 L405.2 422.5 L405.8 423.5 L407.0 416.0 L407.7 414.6 L408.4 413.2 L409.2 411.0 L410.0 407.1 L410.8 402.7 L411.5 402.8 L412.1 401.1 L412.7 401.0 L413.3 401.3 L414.0 401.5 L414.6 402.3 L415.2 401.8 L415.8 402.7 L416.5 402.0 L417.1 400.8 L417.7 398.6 L418.3 398.5 L419.0 397.0 L419.6 395.0 L420.2 393.2 L420.8 392.7 L422.5 381.0 L423.5 377.0" stroke-dashoffset="3.0"/>
<path d="M454.3 377.0 L456.0 377.7 L457.3 383.0 L460.0 393.0 L462.7 394.3 L463.3 401.7 L464.0 403.3 L464.7 403.7 L465.3 404.3 L466.0 403.6 L466.7 403.2 L467.3 403.7 L468.0 402.2 L468.7 403.0 L469.3 402.1 L470.0 401.7 L470.7 402.1 L471.3 401.3 L472.0 402.0 L472.7 401.4 L473.3 401.5 L474.0 403.1 L474.7 403.6 L475.3 403.7 L476.0 403.2 L476.7 403.1 L477.3 403.0 L478.0 402.3 L478.7 401.6 L479.3 402.1 L480.0 402.4 L480.7 401.7 L481.3 401.9 L482.0 403.6 L482.7 403.7 L483.3 403.5 L484.0 403.2 L484.7 401.9 L485.3 401.7 L486.0 401.3 L486.7 402.8 L487.3 402.3 L488.2 403.3 L489.0 403.0 L489.6 401.7 L490.2 399.8 L490.8 398.8 L491.4 398.5 L492.0 397.0 L492.7 398.6 L493.3 401.9 L494.0 403.0 L494.6 402.8 L495.2 401.6 L495.8 402.1 L496.4 401.1 L497.0 401.0 L497.7 403.5 L498.3 405.2 L499.0 406.0 L499.7 404.4 L500.3 403.0 L501.0 401.0 L501.7 402.4 L502.3 403.6 L503.0 404.0 L503.6 404.0 L504.2 401.1 L504.8 400.7 L505.4 400.2 L506.0 399.0 L506.6 399.2 L507.2 400.4 L507.8 400.0 L508.4 402.2 L509.0 402.0 L509.7 401.4 L510.3 399.9 L511.0 400.0 L511.7 400.7 L512.3 400.3 L513.0 401.0 L513.7 398.7 L514.3 397.6 L515.0 396.0 L515.6 395.9 L516.2 396.6 L516.8 398.5 L517.4 398.8 L518.0 399.0 L518.6 397.4 L519.2 398.4 L519.8 396.2 L520.4 396.3 L521.0 396.0 L521.6 395.6 L522.2 393.8 L522.8 392.0 L523.4 391.0 L524.0 390.0 L524.6 389.6 L525.2 388.9 L525.8 390.4 L526.4 388.3 L527.0 389.0 L527.6 388.4 L528.2 388.5 L528.8 387.4 L529.4 388.0 L530.0 386.6 L530.7 386.4 L531.3 388.2 L532.0 388.4 L532.7 388.3 L533.3 389.0 L534.0 388.6 L534.7 388.7 L535.3 389.7 L536.0 389.9 L536.7 389.6 L537.3 389.7 L538.0 390.0 L538.7 390.3 L539.3 389.6 L540.0 388.9 L540.7 390.1 L541.3 389.0 L542.0 389.4 L542.7 389.6 L543.3 390.5 L544.0 389.5 L544.7 389.5 L545.3 390.0 L546.0 391.0 L546.7 391.2 L547.3 390.7 L548.0 390.5 L548.7 390.9 L549.3 391.9 L550.0 391.0 L550.7 390.0 L551.3 389.8 L552.0 389.4 L552.7 388.0 L553.3 385.4 L554.0 383.0 L554.7 382.9 L555.3 383.6 L556.0 384.0 L556.7 385.6 L557.3 386.6 L558.0 389.0 L558.8 385.3 L559.6 382.0" stroke-dashoffset="2.0"/>
<path d="M235.9 376.5 L235.9 521.7" stroke-dashoffset="1.8"/>
<path d="M236.3 376.5 L236.3 521.7" stroke-dashoffset="7.6"/>
<path d="M236.7 376.5 L236.7 521.7" stroke-dashoffset="7.0"/>
<path d="M423.6 377.0 L423.6 521.3" stroke-dashoffset="5.3"/>
<path d="M424.4 377.0 L424.4 521.3" stroke-dashoffset="2.4"/>
<path d="M425.1 377.0 L425.1 521.3" stroke-dashoffset="8.7"/>
<path d="M425.0 377.0 L429.1 377.0" stroke-dashoffset="1.0"/>
<path d="M429.1 377.0 L429.1 521.3" stroke-dashoffset="4.0"/>
<path d="M429.2 520.8 L430.5 518.3 L432.5 520.8 L434.4 520.3" stroke-dashoffset="0.0"/>
<path d="M434.3 377.0 L434.3 521.3" stroke-dashoffset="8.9"/>
<path d="M435.0 377.0 L435.0 521.3" stroke-dashoffset="5.6"/>
<path d="M435.8 377.0 L435.8 521.3" stroke-dashoffset="5.6"/>
<path d="M435.8 520.3 L438.0 518.8 L440.0 520.8 L442.0 518.3 L444.0 520.3 L446.0 519.8 L448.0 520.8" stroke-dashoffset="0.0"/>
<path d="M448.0 377.0 L448.0 521.3" stroke-dashoffset="7.0"/>
<path d="M448.0 379.0 L450.0 377.5 L452.5 377.0" stroke-dashoffset="0.0"/>
<path d="M452.6 377.0 L452.6 521.3" stroke-dashoffset="2.6"/>
<path d="M453.3 377.0 L453.3 521.3" stroke-dashoffset="0.0"/>
<path d="M454.1 377.0 L454.1 521.3" stroke-dashoffset="4.1"/>
</g>
<path clip-path="url(#c2)" d="M243.3 418.5 L248.3 418.8 L251.7 418.2 L256.7 418.8 L260.0 417.7 L266.7 416.0 L270.0 416.5 L273.3 416.0 L280.0 416.5 L287.5 417.3 L290.8 420.7 L295.0 424.7 L298.3 426.0 L301.7 426.0 L305.0 426.8 L306.7 428.0 L309.2 431.0 L313.3 432.7 L317.5 433.5 L320.0 435.2 L323.3 437.2 L325.0 437.7 L327.5 439.0 L330.8 439.7 L334.2 442.3 L336.7 445.2 L340.0 448.0 L342.5 456.0 L345.8 455.2 L350.0 456.0 L354.2 457.7 L356.7 457.3 L360.0 459.0 L364.2 458.0 L368.3 459.3 L372.5 456.3 L378.3 457.7 L385.0 456.3 L391.7 456.3 L399.2 456.0 L402.5 457.7 L405.8 458.5 L408.3 449.3 L410.8 440.2 L415.0 436.8 L418.7 434.3 L424.0 417.0 L426.0 417.0 L429.3 417.7 L431.3 411.0 L434.7 411.0 L436.7 412.1 L444.7 412.3 L452.7 411.7 L456.7 415.0 L466.0 437.0 L468.7 436.3 L470.0 437.4 L476.0 438.4 L480.0 439.0 L484.0 438.4 L488.0 439.4 L491.0 437.0 L498.0 436.4 L503.0 436.6 L507.0 436.0 L512.0 438.0 L514.4 432.6 L518.0 432.0 L522.0 432.0 L525.0 424.0 L528.0 425.0 L534.0 425.4 L542.0 426.0 L547.0 426.6 L551.0 426.0 L554.0 420.0 L559.0 422.0" fill="none" stroke="#4c72b0" stroke-opacity="0.75" stroke-width="2.1" stroke-linejoin="round" stroke-linecap="round"/>
<rect x="428.5" y="72.5" width="146" height="50" rx="3" ry="3" fill="#eaeaf2" fill-opacity="0.8" stroke="#ccc" stroke-opacity="0.8" stroke-width="1"/>
<line x1="434" x2="464.6" y1="85" y2="85" stroke="#000" stroke-opacity="0.5" stroke-width="2.1" stroke-dasharray="7.7 3.33"/>
<line x1="434" x2="464.4" y1="108" y2="108" stroke="#4c72b0" stroke-opacity="0.75" stroke-width="2.1" stroke-linecap="round"/>
</svg>
<div class="t yt" style="top:49.2px">100</div>
<div class="t yt" style="top:89.2px">0</div>
<div class="t yt" style="top:129.4px"><span class="mn">−</span>100</div>
<div class="t yt" style="top:203.3px">0</div>
<div class="t yt" style="top:238.9px"><span class="mn">−</span>20</div>
<div class="t yt" style="top:274.6px"><span class="mn">−</span>40</div>
<div class="t yt" style="top:310.2px"><span class="mn">−</span>60</div>
<div class="t yt" style="top:401.2px">100</div>
<div class="t yt" style="top:441.2px">0</div>
<div class="t yt" style="top:481.2px"><span class="mn">−</span>100</div>
<div class="t xt" style="left:93.2px;top:539px">6860</div>
<div class="t xt" style="left:151.5px;top:539px">6880</div>
<div class="t xt" style="left:209.8px;top:539px">6900</div>
<div class="t xt" style="left:268.1px;top:539px">6920</div>
<div class="t xt" style="left:326.4px;top:539px">6940</div>
<div class="t xt" style="left:384.7px;top:539px">6960</div>
<div class="t xt" style="left:443.0px;top:539px">6980</div>
<div class="t xt" style="left:501.3px;top:539px">7000</div>
<div class="t yl" style="left:18.2px;top:174.8px"><i>roll</i> (deg)</div>
<div class="t yl" style="left:27.5px;top:350.9px"><i>pitch</i> (deg)</div>
<div class="t yl" style="left:18.2px;top:527.0px"><i>yaw</i> (deg)</div>
<div class="t" style="font-size:18.8px;left:311px;top:562.5px;width:60px;text-align:center"><i>t</i> (s)</div>
<div class="t" style="font-size:17px;right:18.3px;top:559px;text-align:right;letter-spacing:0.3px">+1.40363e9</div>
<div class="t" style="font-size:17px;left:477.6px;top:76px;letter-spacing:0.3px">groundtruth</div>
<div class="t" style="font-size:17px;left:478px;top:99px">traj</div>
<div class="t" style="font-size:9.4px;left:0px;top:589.6px">euler_angle_sequence: sxyz</div>
</body></html>
